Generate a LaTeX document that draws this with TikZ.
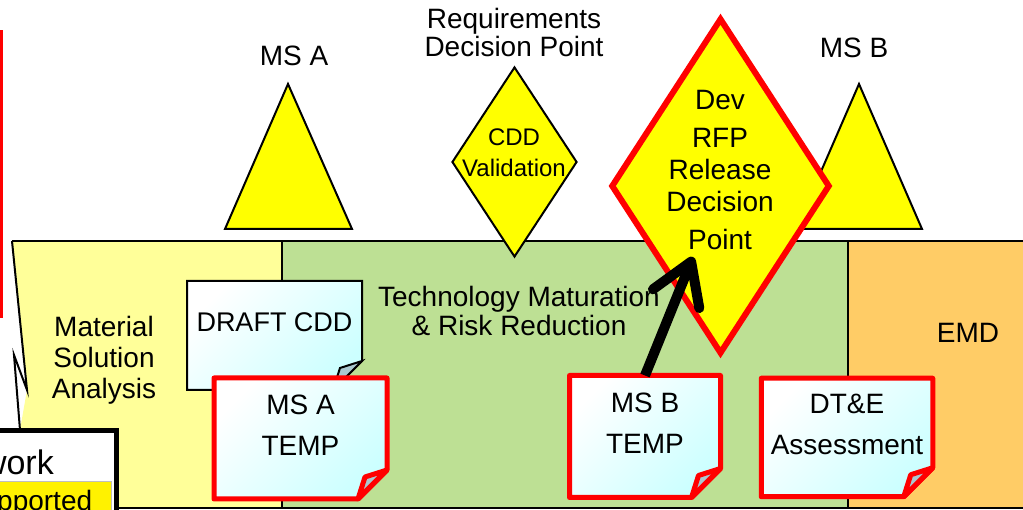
\documentclass[tikz,border=0pt]{standalone}
\usepackage{fontspec}
\setmainfont{Liberation Sans}
\usetikzlibrary{shapes.geometric,arrows.meta}

\definecolor{msayellow}{RGB}{255,255,153}
\definecolor{tmrgreen}{RGB}{189,224,148}
\definecolor{emdorange}{RGB}{255,204,102}
\definecolor{gateyellow}{RGB}{255,255,0}
\definecolor{papercyan}{RGB}{204,255,255}
\definecolor{flapblue}{RGB}{170,200,208}

\pgfdeclarelayer{bands}
\pgfdeclarelayer{paper}
\pgfsetlayers{bands,paper,main}

\begin{document}
\begin{tikzpicture}
  [x=1pt,y=1pt,
   every node/.style={font=\fontsize{28}{31}\selectfont,align=center,inner sep=0pt},
   milestone/.style={draw=black,line width=2pt,fill=gateyellow},
   gate/.style={diamond,fill=gateyellow,draw=black,line width=2pt},
   redgate/.style={gate,draw=red,line width=6pt},
   doc/.style={outer sep=0pt,font=\fontsize{28}{41}\selectfont},
   paper/.style={top color=white,bottom color=papercyan,shading angle=45},
   plainedge/.style={draw=black,line width=2pt},
   rededge/.style={draw=red,line width=5pt,line join=round},
   bigarrow/.style={line width=10pt,-{Straight Barb[length=40pt,width=50pt,round]}}]

  \useasboundingbox (0,0) rectangle (1023,510);

  % phase bands
  \begin{pgfonlayer}{bands}
    \fill[msayellow] (12,269) -- (282,269) -- (282,2) -- (20,2) -- (20,80) -- (27,120) -- cycle;
    \fill[tmrgreen] (282,269) rectangle (848,2);
    \fill[emdorange] (848,269) rectangle (1023,2);
    \draw[line width=2.5pt] (12,269) -- (1023,269);
    \draw[line width=2.5pt] (116,2) -- (1023,2);
    \draw[line width=2.5pt] (282,269) -- (282,2);
    \draw[line width=2.5pt] (848,269) -- (848,2);
    \draw[line width=2pt] (12,269) -- (27,120) -- (14,155) -- (20,80);
  \end{pgfonlayer}

  \draw[red,line width=3pt] (-20,478) rectangle (1.5,193);

  % milestones
  \draw[milestone] (288,426) -- (352,281) -- (225,281) -- cycle;
  \draw[milestone] (859,426) -- (922,281) -- (796,281) -- cycle;
  \node[font=\fontsize{28}{28}\selectfont] (msalabel) at (294,454) {MS A};
  \node[font=\fontsize{28}{28}\selectfont] (msblabel) at (854,462) {MS B};
  \node[font=\fontsize{28}{28}\selectfont] (rdplabel) at (514,477) {Requirements\\Decision Point};

  % decision points
  \node[gate,minimum width=125,minimum height=190] (cdd) at (514.5,348) {};
  \node[font=\fontsize{24}{31}\selectfont] (cddtext) at (514,357) {CDD\\Validation};
  \node[redgate,minimum width=219,minimum height=336] (devrfp) at (720.5,324) {};
  \node[font=\fontsize{28}{32}\selectfont] (devtext) at (720,340)
    {Dev\\[6pt]RFP\\Release\\Decision\\[6pt]Point};
  \coordinate (devtip) at (693,253);

  % phase names
  \node (msaphase) at (104,150) {Material\\Solution\\Analysis};
  \node[font=\fontsize{28}{29}\selectfont] (tmrphase) at (519,199) {Technology Maturation\\\& Risk Reduction};
  \node (emdphase) at (968,177) {EMD};

  % documents
  \node[doc,font=\fontsize{27}{41}\selectfont,minimum width=175,minimum height=82] (draftcdd) at (274.5,188) {DRAFT CDD};
  \node[doc,minimum width=173,minimum height=94] (msatemp) at (300.5,85) {MS A\\TEMP};
  \node[doc,minimum width=151,minimum height=95] (msbtemp) at (645,87) {MS B\\TEMP};
  \node[doc,minimum width=171.5,minimum height=91.5] (dtassess) at (847,86) {DT\&E\\Assessment};

  \begin{pgfonlayer}{paper}
    \foreach \d/\e in {draftcdd/plainedge,msatemp/rededge,msbtemp/rededge,dtassess/rededge}{
      \draw[\e,paper] (\d.north west) -- (\d.north east) -- ([yshift=2pt]\d.south east)
        -- ([xshift=-29pt,yshift=-27pt]\d.south east) -- ([yshift=-27pt]\d.south west) -- cycle;
      \draw[\e,fill=flapblue] ([yshift=2pt]\d.south east) -- ([xshift=-29pt,yshift=-27pt]\d.south east)
        -- ([xshift=-22pt,yshift=-5pt]\d.south east) -- cycle;
    }
  \end{pgfonlayer}

  \draw[bigarrow] (msbtemp.north) -- (devtip);

  % cut-off box, bottom left
  \filldraw[fill=white,line width=5pt] (-20,-20) rectangle (116,79);
  \draw[gray!50,fill=yellow] (-5,-5) rectangle (111,29);
  \node[font=\fontsize{34}{34}\selectfont,anchor=base east] (worktext) at (54,35) {work};
  \node[font=\fontsize{28}{28}\selectfont,anchor=base west] (pptext) at (-3,-1) {pported};

\end{tikzpicture}
\end{document}
